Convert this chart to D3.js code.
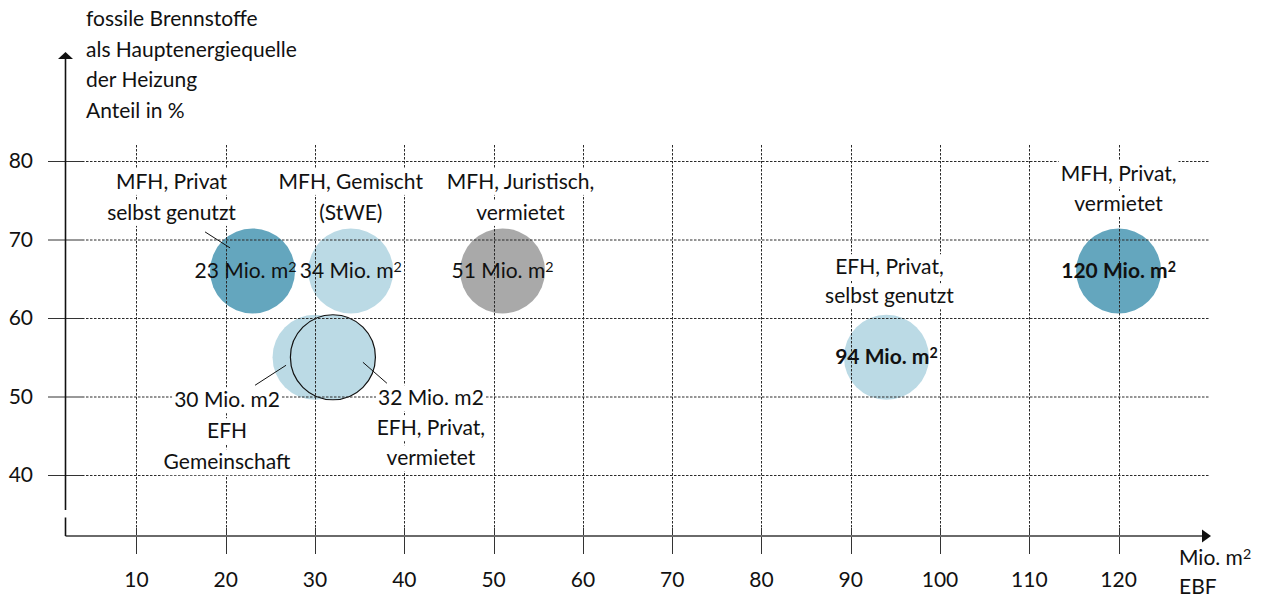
<!DOCTYPE html>
<html>
<head>
<meta charset="utf-8">
<script src="https://cdn.jsdelivr.net/npm/d3@7"></script>
<style>
  body { margin: 0; background: #fff; }
  svg { display: block; }
  text { font-family: Lato, "Noto Sans", sans-serif; fill: #111; }
</style>
</head>
<body>
<svg id="chart" width="1268" height="599"></svg>
<script>
// Segments of the building stock: floor area (Mio. m² EBF) vs. share heated with fossil fuels (%)
const segmentNames = [
  ["MFH, Privat", "selbst genutzt"],
  ["MFH, Gemischt", "(StWE)"],
  ["MFH, Juristisch,", "vermietet"],
  ["EFH", "Gemeinschaft"],
  ["EFH, Privat,", "vermietet"],
  ["EFH, Privat,", "selbst genutzt"],
  ["MFH, Privat,", "vermietet"]
];
const floorArea   = [23, 34, 51, 30, 32, 94, 120];
const fossilShare = [66, 66, 66, 55, 55, 55, 66];
const ownerGroup  = ["dunkel", "hell", "grau", "hell", "hell", "hell", "dunkel"];

const xTicks = [10, 20, 30, 40, 50, 60, 70, 80, 90, 100, 110, 120];
const yTicks = [40, 50, 60, 70, 80];
const yTitle = ["fossile Brennstoffe", "als Hauptenergiequelle", "der Heizung", "Anteil in %"];
const xTitle = ["Mio. m", "EBF"];

// Annotation placement per bubble (pixel offsets from the bubble centre)
const annot = [
  { dx: -81, dy: [-82, -51], lead: [[-47.5, -39], [-22.5, -23]], inside: true, vdx: -7 },
  { dx: 0,   dy: [-82, -51], inside: true },
  { dx: 18,  dy: [-82, -51], inside: true },
  { dx: -88, dy: [50, 81, 112], lead: [[-60, 28], [-29, 8]], areaInCaption: true },
  { dx: 98,  dy: [48, 78, 108], lead: [[30, 5], [54, 26]], areaInCaption: true, outline: true },
  { dx: 3,   dy: [-83, -54], inside: true, bold: true },
  { dx: 0,   dy: [-90, -60], inside: true, bold: true }
];

const svg = d3.select("#chart");
const fontSize = 21;
const radius = 42.5;

const x = d3.scaleLinear().domain([0, 120]).range([47.2, 1118.6]);
const y = d3.scaleLinear().domain([40, 80]).range([475, 161]);
const color = d3.scaleOrdinal()
  .domain(["dunkel", "hell", "grau"])
  .range(["#64a6be", "#bbdae5", "#a9a9a9"]);

const axisY = 536, axisX = 65.5;
const data = floorArea.map((v, i) => ({
  area: v, share: fossilShare[i], group: ownerGroup[i], name: segmentNames[i], a: annot[i]
}));

// Appends a raised "2" after a text element's content
function squared(sel) {
  sel.append("tspan").attr("font-size", "0.68em").attr("dy", "-0.42em").text("2");
}

// Bubbles
svg.append("g").selectAll("circle").data(data).join("circle")
  .attr("cx", d => x(d.area))
  .attr("cy", d => y(d.share))
  .attr("r", radius)
  .attr("fill", d => color(d.group))
  .attr("stroke", d => d.a.outline ? "#111" : "none")
  .attr("stroke-width", 1.2);

// Grid (drawn over the bubbles)
const grid = svg.append("g").attr("stroke", "#2a2a2a").attr("stroke-width", 1).attr("stroke-dasharray", "2.5,1.5");
grid.selectAll("line.h").data(yTicks).join("line").attr("class", "h")
  .attr("x1", 82).attr("x2", 1210)
  .attr("y1", d => y(d) + 0.5).attr("y2", d => y(d) + 0.5);
grid.selectAll("line.v").data(xTicks).join("line").attr("class", "v")
  .attr("x1", d => Math.round(x(d)) + 0.5).attr("x2", d => Math.round(x(d)) + 0.5)
  .attr("y1", 145).attr("y2", 528);

// Tick marks
const ticks = svg.append("g").attr("stroke", "#333").attr("stroke-width", 1);
ticks.selectAll("line.yt").data(yTicks).join("line").attr("class", "yt")
  .attr("x1", 48).attr("x2", 82)
  .attr("y1", d => y(d) + 0.5).attr("y2", d => y(d) + 0.5);
ticks.selectAll("line.xt").data(xTicks).join("line").attr("class", "xt")
  .attr("x1", d => Math.round(x(d)) + 0.5).attr("x2", d => Math.round(x(d)) + 0.5)
  .attr("y1", 528).attr("y2", 554);

// Axes with arrowheads
svg.append("line").attr("x1", axisX).attr("x2", 1203).attr("y1", axisY).attr("y2", axisY)
  .attr("stroke", "#6a6a6a").attr("stroke-width", 2);
svg.append("path").attr("d", `M1202,${axisY - 6.5}L1211,${axisY}L1202,${axisY + 6.5}Z`).attr("fill", "#111");
svg.append("line").attr("x1", axisX).attr("x2", axisX).attr("y1", 58).attr("y2", 510)
  .attr("stroke", "#111").attr("stroke-width", 1.6);
svg.append("line").attr("x1", axisX).attr("x2", axisX).attr("y1", 517.5).attr("y2", axisY)
  .attr("stroke", "#111").attr("stroke-width", 1.6);
svg.append("path").attr("d", `M${axisX - 7.5},59L${axisX},52L${axisX + 7.5},59Z`).attr("fill", "#111");

// Tick labels
svg.append("g").selectAll("text").data(yTicks).join("text")
  .attr("x", 33).attr("y", d => y(d) + 7)
  .attr("text-anchor", "end").attr("font-size", fontSize)
  .text(d => d);
svg.append("g").selectAll("text").data(xTicks).join("text")
  .attr("x", d => x(d)).attr("y", 587)
  .attr("text-anchor", "middle").attr("font-size", fontSize)
  .text(d => d);

// Axis titles
svg.append("g").selectAll("text").data(yTitle).join("text")
  .attr("x", 86).attr("y", (d, i) => 26 + i * 30.7)
  .attr("font-size", fontSize).text(d => d);
const xt = svg.append("g").selectAll("text").data(xTitle).join("text")
  .attr("x", 1179).attr("y", (d, i) => 565 + i * 29)
  .attr("font-size", fontSize).text(d => d);
xt.filter((d, i) => i === 0).call(squared);

// Area labels inside the bubbles
svg.append("g").selectAll("text").data(data.filter(d => d.a.inside)).join("text")
  .attr("x", d => x(d.area) + (d.a.vdx || 0)).attr("y", d => y(d.share) + 7)
  .attr("text-anchor", "middle").attr("font-size", fontSize)
  .attr("font-weight", d => d.a.bold ? 700 : 400)
  .text(d => `${d.area} Mio. m`)
  .call(squared);

// Leader lines
svg.append("g").selectAll("line").data(data.filter(d => d.a.lead)).join("line")
  .attr("x1", d => x(d.area) + d.a.lead[0][0]).attr("y1", d => y(d.share) + d.a.lead[0][1])
  .attr("x2", d => x(d.area) + d.a.lead[1][0]).attr("y2", d => y(d.share) + d.a.lead[1][1])
  .attr("stroke", "#111").attr("stroke-width", 1);

// Segment captions, each line on its own white box
const caps = svg.append("g").selectAll("g").data(data).join("g");
caps.each(function (d) {
  const g = d3.select(this);
  const lines = d.a.areaInCaption ? [`${d.area} Mio. m2`, ...d.name] : d.name;
  const cx = x(d.area) + d.a.dx, cy = y(d.share);
  const boxes = g.append("g"), texts = g.append("g");
  lines.forEach((s, i) => {
    const t = texts.append("text").attr("text-anchor", "middle").attr("font-size", fontSize)
      .attr("x", cx).attr("y", cy + d.a.dy[i]).text(s);
    const b = t.node().getBBox();
    boxes.append("rect").attr("fill", "#fff")
      .attr("x", b.x - 2).attr("y", b.y + 1).attr("width", b.width + 4).attr("height", b.height + 1);
  });
});
</script>
</body>
</html>
